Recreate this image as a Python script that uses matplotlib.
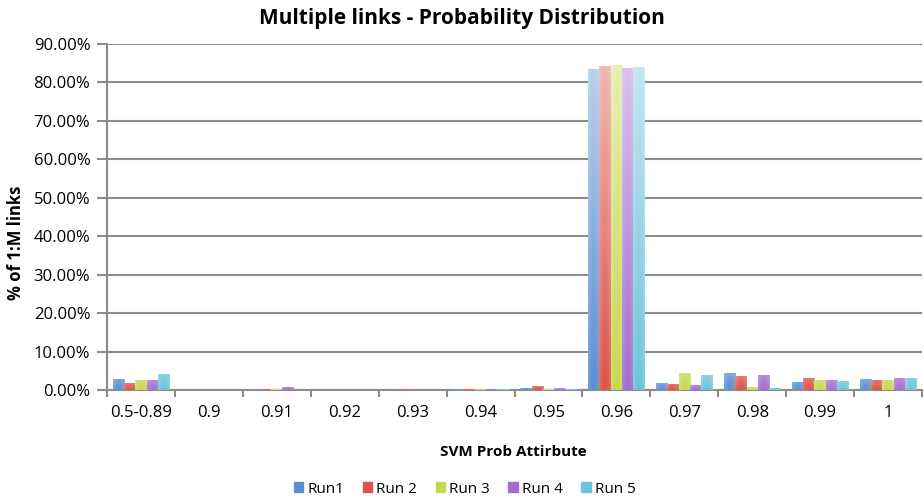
import numpy as np
import matplotlib
matplotlib.use("Agg")
import matplotlib.pyplot as plt
from matplotlib.colors import to_rgb

categories = ["0.5-0.89", "0.9", "0.91", "0.92", "0.93", "0.94", "0.95", "0.96", "0.97", "0.98", "0.99", "1"]
run1 = [2.7, 0.0, 0.1, 0.0, 0.0, 0.1, 0.5, 83.4, 1.8, 4.2, 2.0, 2.8]
run2 = [1.8, 0.0, 0.1, 0.0, 0.1, 0.1, 1.0, 84.1, 1.5, 3.5, 3.0, 2.5]
run3 = [2.5, 0.0, 0.1, 0.0, 0.0, 0.2, 0.1, 84.3, 4.4, 0.6, 2.5, 2.6]
run4 = [2.5, 0.0, 0.6, 0.0, 0.0, 0.2, 0.5, 83.5, 1.3, 3.8, 2.5, 3.0]
run5 = [4.0, 0.0, 0.0, 0.0, 0.0, 0.2, 0.1, 83.9, 3.7, 0.5, 2.3, 3.0]
series_names = ["Run1", "Run 2", "Run 3", "Run 4", "Run 5"]
series = [run1, run2, run3, run4, run5]
colors = ["#5a8fd2", "#db5449", "#c4d94f", "#a36dd0", "#6cc4d9"]

plt.rcParams['font.family'] = ['Open Sans', 'DejaVu Sans']

fig = plt.figure(figsize=(9.24, 4.99), dpi=100)
ax = fig.add_axes([107/924, (499-390)/499, (922-107)/924, (390-44)/499])

n = len(categories)
x = np.arange(n)
group_w = 0.83
bw = group_w / len(series)

for i, (vals, c) in enumerate(zip(series, colors)):
    offs = -group_w/2 + bw*(i+0.5)
    bars = ax.bar(x + offs, vals, width=bw, color=c, label=series_names[i], zorder=3, linewidth=0)
    base = np.array(to_rgb(c))
    light = base + (1 - base) * 0.6
    for b in bars:
        h = b.get_height()
        if h <= 0:
            continue
        b.set_facecolor("none")
        x0 = b.get_x(); w = b.get_width()
        top_frac = min(1.0, h / 90.0) * 0.7 + 0.3
        t = np.linspace(0, 1, 64)[:, None] * top_frac
        tcol = (base[None, :] * (1 - t) + light[None, :] * t)
        hx = np.linspace(-1, 1, 16)[None, :]
        edge = 0.15 * np.abs(hx) ** 2
        img = tcol[:, None, :] * (1 - edge[..., None]) + edge[..., None]
        img = np.clip(img, 0, 1)
        ax.imshow(img, extent=[x0, x0 + w, 0, h], origin='lower', aspect='auto', zorder=3, interpolation='bilinear')

ax.set_xlim(-0.5, n - 0.5)
ax.set_ylim(0, 90)
ax.set_yticks(np.arange(0, 91, 10))
ax.set_yticklabels([f"{v:.2f}%" for v in np.arange(0, 91, 10)], fontsize=12)
ax.set_xticks(x)
ax.set_xticklabels(categories, fontsize=12)
ax.tick_params(axis='x', length=0, pad=11)
ax.set_xticks(np.arange(-0.5, n, 1), minor=True)
ax.tick_params(axis='x', which='minor', length=5, width=1.5, color='#8c8c8c')
ax.tick_params(axis='y', length=7, width=1.5, color='#8c8c8c', pad=5)
ax.yaxis.grid(True, color='#8c8c8c', linewidth=1.5, zorder=0)
ax.set_axisbelow(True)
for s in ['top', 'right']:
    ax.spines[s].set_visible(False)
for s in ['left', 'bottom']:
    ax.spines[s].set_color('#8c8c8c')
    ax.spines[s].set_linewidth(1.5)

fig.text(0.5, 0.962, "Multiple links - Probability Distribution", ha='center', va='center',
         fontsize=15, fontweight='bold')
fig.text(0.555, 0.094, "SVM Prob Attirbute", ha='center', va='center', fontsize=11, fontweight='bold')
fig.text(0.017, 0.513, "% of 1:M links", ha='center', va='center', rotation=90, fontsize=12, fontweight='bold')

handles = [plt.Rectangle((0, 0), 1, 1, color=c) for c in colors]
fig.legend(handles, series_names, loc='center', bbox_to_anchor=(0.503, 0.02), ncol=5, frameon=False,
           fontsize=11, handlelength=0.6, handleheight=0.6, columnspacing=1.2, handletextpad=0.3)

fig.savefig("out.png", dpi=100)
